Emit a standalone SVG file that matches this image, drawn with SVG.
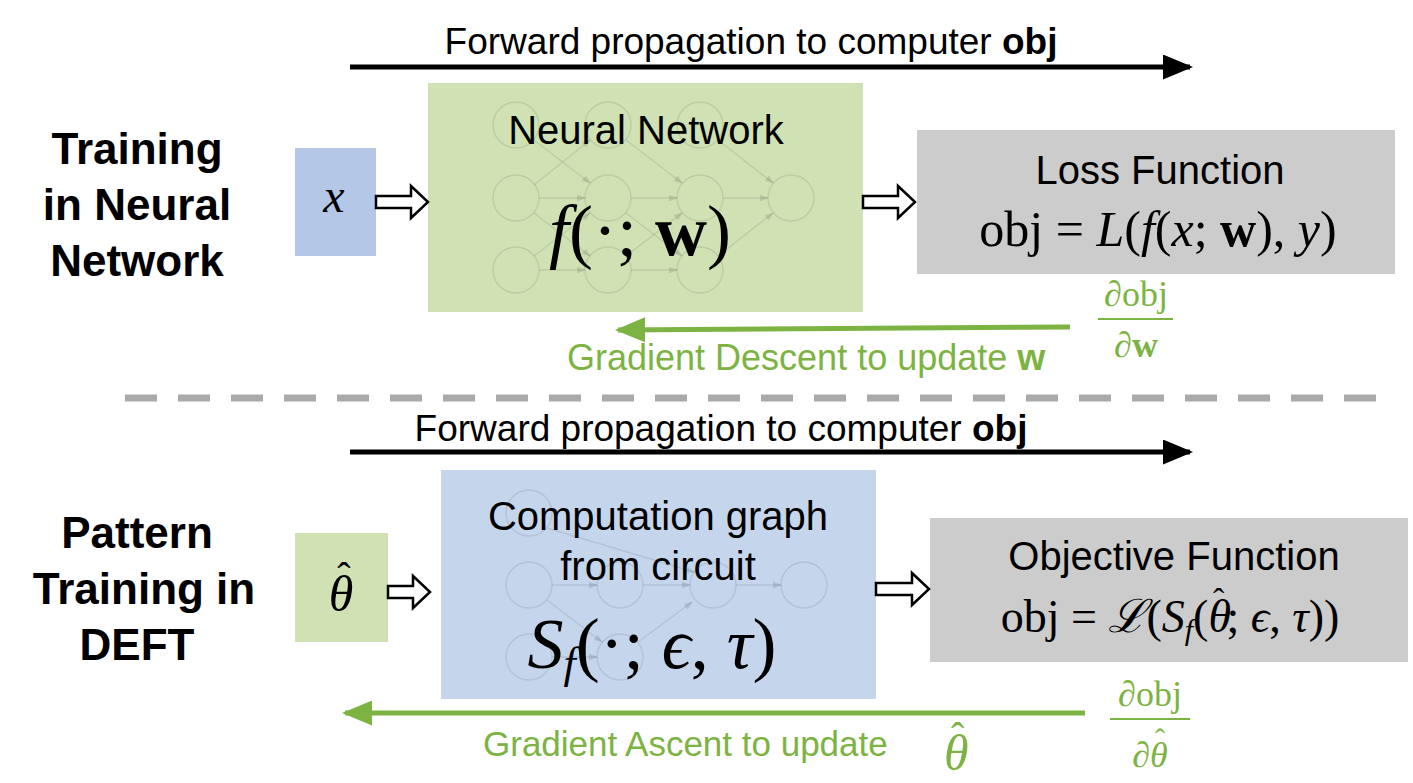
<svg xmlns="http://www.w3.org/2000/svg" width="1413" height="783" viewBox="0 0 1413 783">
<defs>
<style>
.s{font-family:"Liberation Sans",Arial,sans-serif}
.m{font-family:"Liberation Serif","DejaVu Serif",serif}
.nc{fill:none;stroke:#000;stroke-opacity:0.09;stroke-width:1.5}
.ne{stroke:#000;stroke-opacity:0.09;stroke-width:1.5;marker-end:url(#fa)}
.hollow{fill:#fff;stroke:#000;stroke-width:2.5}
</style>
<marker id="ba" viewBox="0 0 10 10" refX="9" refY="5" markerWidth="6" markerHeight="5" orient="auto" markerUnits="strokeWidth" preserveAspectRatio="none"><path d="M0,0L10,5L0,10z" fill="#000"/></marker>
<marker id="ga" viewBox="0 0 10 10" refX="9" refY="5" markerWidth="6" markerHeight="5" orient="auto" markerUnits="strokeWidth" preserveAspectRatio="none"><path d="M0,0L10,5L0,10z" fill="#7cb342"/></marker>
<marker id="fa" viewBox="0 0 10 10" refX="9" refY="5" markerWidth="6" markerHeight="6" orient="auto"><path d="M0,1L10,5L0,9z" fill="#000" fill-opacity="0.1"/></marker>
</defs>
<rect width="1413" height="783" fill="#fff"/>

<g id="label-top"><text class="s" font-size="44" font-weight="bold" text-anchor="middle" x="137" y="164">Training</text><text class="s" font-size="44" font-weight="bold" text-anchor="middle" x="137" y="220">in Neural</text><text class="s" font-size="44" font-weight="bold" text-anchor="middle" x="137" y="276">Network</text></g>
<g id="label-bottom"><text class="s" font-size="44" font-weight="bold" text-anchor="middle" x="137" y="548">Pattern</text><text class="s" font-size="44" font-weight="bold" text-anchor="middle" x="144" y="604">Training in</text><text class="s" font-size="44" font-weight="bold" text-anchor="middle" x="137" y="660">DEFT</text></g>

<g id="x-node"><rect x="295" y="148" width="81" height="108" fill="#b4c7e7"/><text class="m" font-size="48" font-style="italic" text-anchor="middle" x="334" y="212">x</text></g>

<g id="nn-node"><rect x="428" y="83" width="435" height="229" fill="#d0e2b4"/>
<g>
<circle class="nc" cx="516" cy="125" r="23"/><circle class="nc" cx="516" cy="198" r="23"/><circle class="nc" cx="516" cy="270" r="23"/>
<circle class="nc" cx="608" cy="125" r="23"/><circle class="nc" cx="608" cy="198" r="23"/><circle class="nc" cx="608" cy="270" r="23"/>
<circle class="nc" cx="700" cy="125" r="23"/><circle class="nc" cx="700" cy="198" r="23"/><circle class="nc" cx="700" cy="270" r="23"/>
<circle class="nc" cx="791" cy="198" r="23"/>
<line class="ne" x1="539" y1="198" x2="585" y2="198"/><line class="ne" x1="539" y1="270" x2="585" y2="270"/>
<line class="ne" x1="534" y1="140" x2="590" y2="183"/><line class="ne" x1="534" y1="185" x2="590" y2="140"/>
<line class="ne" x1="534" y1="213" x2="590" y2="256"/><line class="ne" x1="534" y1="256" x2="590" y2="213"/>
<line class="ne" x1="631" y1="198" x2="677" y2="198"/><line class="ne" x1="631" y1="270" x2="677" y2="270"/>
<line class="ne" x1="626" y1="140" x2="682" y2="183"/><line class="ne" x1="626" y1="213" x2="682" y2="256"/><line class="ne" x1="626" y1="256" x2="682" y2="213"/>
<line class="ne" x1="723" y1="198" x2="768" y2="198"/><line class="ne" x1="718" y1="140" x2="773" y2="183"/><line class="ne" x1="718" y1="256" x2="773" y2="213"/>
</g>
<text class="s" font-size="40" text-anchor="middle" x="646" y="144">Neural Network</text>
<text class="m" font-size="72" text-anchor="middle" x="640" y="255"><tspan font-style="italic">f</tspan>(·; <tspan font-weight="bold">w</tspan>)</text>
</g>

<g id="loss-node"><rect x="917" y="130" width="478" height="144" fill="#cccccc"/>
<text class="s" font-size="40" text-anchor="middle" x="1160" y="184">Loss Function</text>
<text class="m" font-size="50" text-anchor="middle" x="1158" y="246">obj = <tspan font-style="italic">L</tspan>(<tspan font-style="italic">f</tspan>(<tspan font-style="italic">x</tspan>; <tspan font-weight="bold">w</tspan>), <tspan font-style="italic">y</tspan>)</text></g>

<g id="theta-node"><rect x="295" y="533" width="93" height="109" fill="#d0e2b4"/><text class="m" font-size="50" font-style="italic" text-anchor="middle" x="341" y="611">θ</text><text class="m" font-size="40" text-anchor="middle" x="344" y="590">ˆ</text></g>

<g id="cg-node"><rect x="441" y="470" width="435" height="229" fill="#c5d6ec"/>
<g>
<circle class="nc" cx="529" cy="513" r="23"/><circle class="nc" cx="529" cy="585" r="23"/><circle class="nc" cx="529" cy="657" r="23"/>
<circle class="nc" cx="620" cy="585" r="23"/><circle class="nc" cx="620" cy="657" r="23"/>
<circle class="nc" cx="713" cy="585" r="23"/><circle class="nc" cx="804" cy="585" r="23"/>
<line class="ne" x1="552" y1="585" x2="597" y2="585"/><line class="ne" x1="643" y1="585" x2="690" y2="585"/><line class="ne" x1="736" y1="585" x2="781" y2="585"/>
<line class="ne" x1="552" y1="657" x2="597" y2="657"/><line class="ne" x1="547" y1="600" x2="602" y2="642"/>
<line class="ne" x1="638" y1="642" x2="692" y2="602"/><line class="ne" x1="547" y1="528" x2="694" y2="572"/>
</g>
<text class="s" font-size="40" text-anchor="middle" x="658" y="530">Computation graph</text>
<text class="s" font-size="40" text-anchor="middle" x="658" y="580">from circuit</text>
<text class="m" font-size="72" text-anchor="middle" x="652" y="668"><tspan font-style="italic">S<tspan font-size="44" dy="10">f</tspan></tspan><tspan dy="-10">(·; </tspan><tspan font-style="italic">ϵ</tspan>, <tspan font-style="italic">τ</tspan>)</text>
</g>

<g id="obj-node"><rect x="930" y="518" width="478" height="144" fill="#cccccc"/>
<text class="s" font-size="40" text-anchor="middle" x="1174" y="570">Objective Function</text>
<text class="m" font-size="46" text-anchor="middle" x="1170" y="632">obj = <tspan font-style="italic">ℒ</tspan>(<tspan font-style="italic">S<tspan font-size="30" dy="8">f</tspan></tspan><tspan dy="-8">(</tspan><tspan font-style="italic">θ</tspan><tspan dx="-18" dy="-20" font-size="34">ˆ</tspan><tspan dx="2" dy="20">; </tspan><tspan font-style="italic">ϵ</tspan>, <tspan font-style="italic">τ</tspan>))</text></g>

<g id="connectors">
<line x1="350" y1="67" x2="1190" y2="67" stroke="#000" stroke-width="5" marker-end="url(#ba)"/>
<line x1="350" y1="452" x2="1190" y2="452" stroke="#000" stroke-width="5" marker-end="url(#ba)"/>
<path class="hollow" d="M376,196h35v-10l17,16l-17,16v-10h-35z"/>
<path class="hollow" d="M863,196h35v-10l17,16l-17,16v-10h-35z"/>
<path class="hollow" d="M388,586h25v-10l17,16l-17,16v-10h-25z"/>
<path class="hollow" d="M876,583h36v-10l17,16l-17,16v-10h-36z"/>
<line x1="1070" y1="327" x2="618" y2="330" stroke="#7cb342" stroke-width="5" marker-end="url(#ga)"/>
<line x1="1085" y1="713" x2="345" y2="713" stroke="#7cb342" stroke-width="5" marker-end="url(#ga)"/>
<line x1="125" y1="398" x2="1395" y2="398" stroke="#aaaaaa" stroke-width="7" stroke-dasharray="32,21"/>
</g>

<g id="texts">
<text class="s" font-size="37" text-anchor="middle" x="751" y="54">Forward propagation to computer <tspan font-weight="bold">obj</tspan></text>
<text class="s" font-size="37" text-anchor="middle" x="721" y="441">Forward propagation to computer <tspan font-weight="bold">obj</tspan></text>
<text class="s" font-size="36" fill="#7cb342" x="567" y="370">Gradient Descent to update <tspan font-weight="bold">w</tspan></text>
<text class="s" font-size="35" fill="#7cb342" x="483" y="756">Gradient Ascent to update</text>
<text class="m" font-size="50" font-style="italic" fill="#7cb342" x="944" y="770">θ</text><text class="m" font-size="40" fill="#7cb342" x="951" y="750">ˆ</text>
<g fill="#7cb342" class="m" font-size="36" text-anchor="middle">
<text x="1136" y="306"><tspan font-style="italic">∂</tspan>obj</text><line x1="1098" y1="319" x2="1173" y2="319" stroke="#7cb342" stroke-width="2"/><text x="1136" y="357"><tspan font-style="italic">∂</tspan><tspan font-weight="bold">w</tspan></text>
<text x="1150" y="706"><tspan font-style="italic">∂</tspan>obj</text><line x1="1110" y1="719" x2="1190" y2="719" stroke="#7cb342" stroke-width="2"/><text x="1150" y="767" font-style="italic">∂θ</text><text x="1160" y="749" font-size="30">ˆ</text>
</g>
</g>
</svg>
